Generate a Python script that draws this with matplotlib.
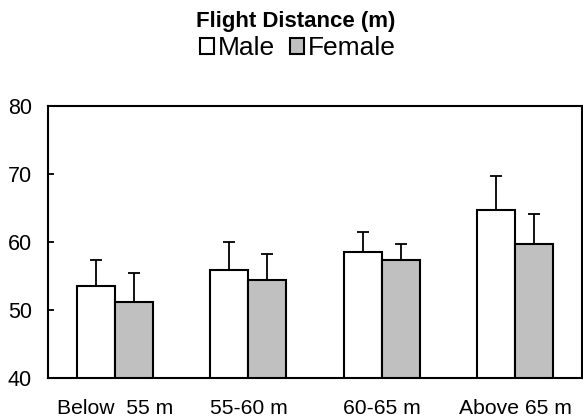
import matplotlib.pyplot as plt
import numpy as np

plt.rcParams['font.family'] = ['Liberation Sans', 'DejaVu Sans']

categories = ["Below  55 m", "55-60 m", "60-65 m", "Above 65 m"]
male = [53.5, 55.8, 58.5, 64.7]
male_err = [3.8, 4.2, 2.9, 5.0]
female = [51.2, 54.4, 57.3, 59.7]
female_err = [4.3, 3.8, 2.4, 4.4]

fig = plt.figure(figsize=(5.83, 4.2), dpi=100)
ax = fig.add_axes([0.083, 0.1, 0.915, 0.648])

x = np.arange(len(categories))
w = 0.285
err_kw = dict(ecolor='black', elinewidth=1.3, capsize=4, capthick=1.3)

ax.bar(x - w / 2, male, w, color='white', edgecolor='black',
       linewidth=1.5, yerr=[np.zeros(4), male_err], error_kw=err_kw, label='Male')
ax.bar(x + w / 2, female, w, color='#c0c0c0', edgecolor='black',
       linewidth=1.5, yerr=[np.zeros(4), female_err], error_kw=err_kw, label='Female')

ax.set_ylim(40, 80)
ax.set_xlim(-0.5, 3.5)
ax.set_yticks([40, 50, 60, 70, 80])
ax.set_xticks(x)
ax.set_xticklabels(categories)
ax.tick_params(axis='y', direction='in', length=4, width=1.3, labelsize=15.5, pad=12)
ax.tick_params(axis='x', length=0, labelsize=15.2, pad=15)
for s in ax.spines.values():
    s.set_linewidth(1.5)

fig.text(0.508, 0.95, 'Flight Distance (m)', ha='center', va='center',
         fontsize=16, fontweight='bold')
fig.legend(loc='center', bbox_to_anchor=(0.511, 0.885), ncol=2, frameon=False,
           fontsize=19, handlelength=0.52, handleheight=0.52, handletextpad=0.15,
           columnspacing=0.55)

fig.savefig('out.png', dpi=100)
